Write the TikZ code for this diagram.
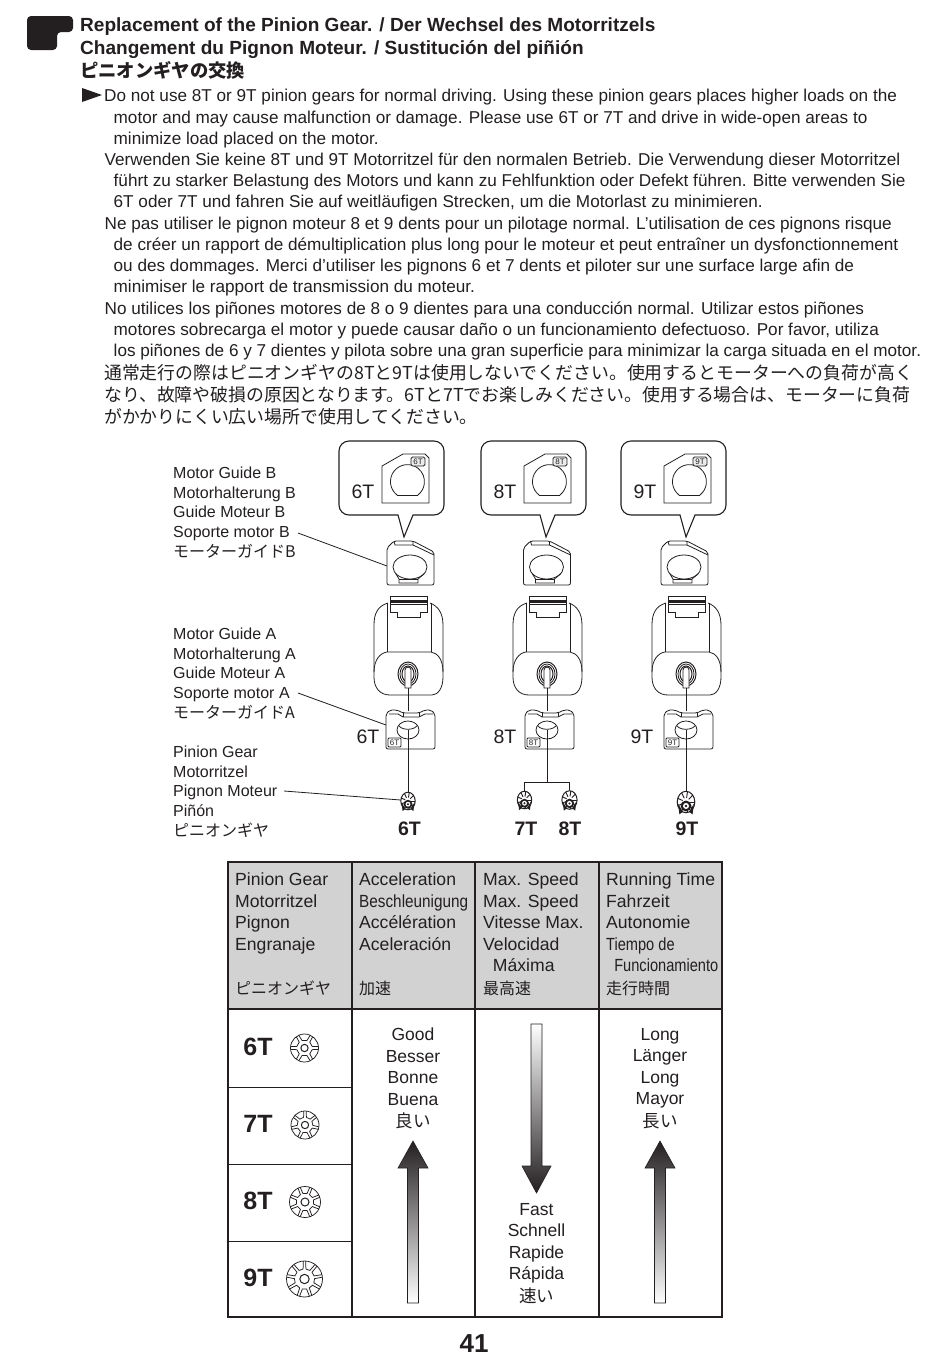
\documentclass[tikz,border=0pt]{standalone}
\usepackage{fontspec}
\setmainfont{Liberation Sans}
\newfontfamily\jp{Noto Sans CJK JP}
\newfontfamily\narrowf[FakeStretch=0.87]{Liberation Sans}
\newfontfamily\narrowg[FakeStretch=0.83]{Liberation Sans}
\definecolor{ink}{HTML}{231F20}
\definecolor{headgray}{HTML}{D2D2D2}
\newcommand\fsz[2]{\fontsize{#1}{#2}\selectfont}
\newcommand\tl[4]{\node[tline] (#1) at (#2,#3) {#4};}
\newcommand\wheel[4]{% x,y,R,N
 \begin{scope}[shift={(#1,#2)},line width=0.75pt,draw=ink]
  \draw (0,0) circle (#3);
  \draw[line width=1pt] (0,0) circle (0.26*#3);
  \foreach \i in {1,...,#4}{
    \pgfmathsetmacro\aa{\i*360/#4+90}
    \pgfmathsetmacro\ia{0.30*360/#4}
    \pgfmathsetmacro\oa{0.40*360/#4}
    \pgfmathsetmacro\sa{\aa-\ia}
    \pgfmathsetmacro\ea{\aa+\ia}
    \pgfmathsetmacro\so{\aa-\oa}
    \pgfmathsetmacro\eo{\aa+\oa}
    \pgfmathsetmacro\ra{0.56*#3}
    \draw (\so:#3) -- (\sa:\ra) arc[start angle=\sa,end angle=\ea,radius=\ra] -- (\eo:#3);
  }
 \end{scope}}
\tikzset{
 tline/.style={anchor=base west,inner sep=0pt,text=ink,font=\fsz{17.15}{20}},
 head/.style={anchor=base west,inner sep=0pt,text=ink,font=\fsz{19.05}{21}\bfseries},
 jline/.style={anchor=base west,inner sep=0pt,text=ink,font=\jp\fsz{17.86}{20}},
 lab/.style={anchor=north west,inner sep=0pt,align=left,text=ink,font=\fsz{16}{19.4}},
 thead/.style={anchor=north west,inner sep=0pt,align=left,text=ink,font=\fsz{17.6}{21.5}},
 tcent/.style={anchor=north,inner sep=0pt,align=center,text=ink,font=\fsz{17.5}{21.4}},
 gl/.style={inner sep=0pt,text=ink,font=\fsz{19.5}{20}},
 pl/.style={inner sep=0pt,text=ink,font=\fsz{19.5}{20}\bfseries},
 rowl/.style={inner sep=0pt,text=ink,font=\fsz{25}{28}\bfseries},
 pagenum/.style={inner sep=0pt,text=ink,font=\fsz{26}{28}\bfseries},
 tiny/.style={inner sep=0pt,text=ink,font=\fsz{8}{8}},
 thin line/.style={line width=0.8pt,draw=ink},
 tbl/.style={line width=1.8pt,draw=ink},
 arrowbody/.style={line width=0.6pt,draw=ink},
 pics/bubble/.style={code={
  \draw[thin line,line width=1.1pt,rounded corners=10pt] (-69,441) -- (36,441) -- (36,515) [sharp corners] -- (5,515) -- (-4,537) -- (-10,515) [rounded corners=10pt] -- (-69,515) -- cycle;
  \coordinate (-tip) at (-4,537);
  \draw[thin line] (-26,466) -- (-5,454) -- (17,454) -- (21,458) -- (21,503) -- (-26,503) -- cycle;
  \draw[thin line] (-11,495) -- (10,495);
  \draw[thin line] (-11,495) arc[start angle=128,end angle=412,radius=17];
  \draw[thin line,rounded corners=1.5pt,fill=black!8] (3,457) rectangle (17,466);
  \node[tiny] (-tag) at (10,461.5) {#1};
  \node[gl] (-txt) at (-45,492) {#1};
 }},
 pics/guideB/.style={code={
  \draw[thin line,rounded corners=2pt] (-21,548) -- (-14,541) -- (5,541) -- (26,552) -- (26,585) -- (-21,585) -- cycle;
  \draw[thin line] (-14,541) -- (-13,545) -- (5,545) -- (5,541);
  \draw[thin line] (5,545) -- (26,555);
  \draw[thin line] (2,567) ellipse (17 and 12);
  \draw[thin line] (-12,574) -- (-9,579) -- (-9,583) -- (10,583) -- (10,579) -- (16,574);
  \draw[thin line] (-9,579) -- (10,579);
  \coordinate (-w) at (-21,566);
 }},
 pics/motor/.style={code={
  \draw[thin line] (-20,603) .. controls (-30,606) and (-34,613) .. (-34,625) -- (-34,677) .. controls (-34,688) and (-28,695) .. (-18,695) -- (24,695) .. controls (30,695) and (35,688) .. (35,677) -- (35,625) .. controls (35,613) and (30,606) .. (22,603);
  \draw[thin line] (-21,603) -- (-21,652);
  \draw[thin line] (23,603) -- (23,652);
  \draw[thin line] (-34,672) .. controls (-34,660) and (-28,653) .. (-21,652) -- (23,652) .. controls (30,653) and (35,660) .. (35,672);
  \draw[thin line] (-18,596) rectangle (19,604);
  \fill[ink] (-18,600) rectangle (19,603);
  \draw[thin line] (-18,604) -- (-18,612) -- (-11,612) -- (-11,617) -- (12,617) -- (12,612) -- (19,612) -- (19,604);
  \draw[thin line,line width=1pt] (0,674) ellipse (10 and 12);
  \draw[thin line] (0,674) ellipse (8 and 10);
  \draw[thin line,line width=1pt] (0,674) ellipse (6 and 8);
  \draw[thin line,fill=white] (-3,670) -- (-3,688) -- (3,688) -- (3,670) arc[start angle=0,end angle=-180,radius=3];
  \coordinate (-end) at (0,688);
 }},
 pics/guideA/.style={code={
  \draw[thin line,rounded corners=2pt] (-22,714) -- (-18,710) -- (-11,710) -- (-5,713) -- (11,713) -- (17,710) -- (23,710) -- (27,714) -- (27,749) -- (-22,749) -- cycle;
  \draw[thin line] (-19,714) -- (-10,714) -- (-5,717) -- (11,717) -- (17,714) -- (25,714);
  \draw[thin line] (-5,713) -- (-5,717); \draw[thin line] (11,713) -- (11,717);
  \draw[thin line] (0,730) ellipse (11 and 9);
  \draw[thin line] (-9,726) arc[start angle=160,end angle=20,x radius=9.5,y radius=5];
  \draw[thin line,rounded corners=1pt,fill=white] (-20,738) rectangle (-7,747);
  \node[tiny] (-tag) at (-13.5,742.5) {#1};
  \coordinate (-w) at (-22,725);
  \coordinate (-top) at (0,711);
  \coordinate (-hole) at (0,730);
 }},
 pics/pinion/.style={code={
  \begin{scope}[yscale=1.22]
   \draw[ink,line width=1pt,fill=white] (0,0) circle (#1);
   \foreach \a in {0,40,...,320}{\draw[ink,line width=0.9pt] (\a:0.4*#1) -- (\a:#1);}
  \end{scope}
  \fill[ink] (-0.9*#1,0.2*#1) -- (-0.75*#1,1.4*#1) -- (-0.35*#1,1.1*#1) -- cycle;
  \fill[ink] (0.9*#1,0.2*#1) -- (0.75*#1,1.4*#1) -- (0.35*#1,1.1*#1) -- cycle;
  \fill[ink] (0,0.45*#1) circle (0.62*#1);
  \fill[white] (0,0.45*#1) circle (0.34*#1);
  \fill[ink] (0,0.45*#1) circle (0.15*#1);
  \coordinate (-top) at (0,-1.22*#1-0.5);
  \coordinate (-w) at (-#1,-1);
 }},
}
\newcommand\jt[1]{{\jp\fsz{16}{20}#1}}
\begin{document}
\begin{tikzpicture}[x=1pt,y=-1pt]
\useasboundingbox (0,0) rectangle (950,1355);
% heading mark
\fill[ink,rounded corners=4pt] (27,16) -- (73,16) -- (73,32) -- (57,32) -- (57,50) -- (27,50) -- cycle;
\node[head] (h1) at (80,31) {Replacement of the Pinion Gear. / Der Wechsel des Motorritzels};
\node[head] (h2) at (80,54) {Changement du Pignon Moteur. / Sustitución del piñión};
\node[jline,font=\jp\fsz{18.3}{20}\bfseries] (h3) at (80,77) {ピニオンギヤの交換};
\fill[ink] (82,88) -- (102,95) -- (82,102) -- cycle;
% body
\tl{a1}{104}{101}{Do not use 8T or 9T pinion gears for normal driving. Using these pinion gears places higher loads on the}
\tl{a2}{113.5}{123}{motor and may cause malfunction or damage. Please use 6T or 7T and drive in wide-open areas to}
\tl{a3}{113.5}{144}{minimize load placed on the motor.}
\tl{b1}{104.5}{165}{Verwenden Sie keine 8T und 9T Motorritzel für den normalen Betrieb. Die Verwendung dieser Motorritzel}
\tl{b2}{113.5}{186}{führt zu starker Belastung des Motors und kann zu Fehlfunktion oder Defekt führen. Bitte verwenden Sie}
\tl{b3}{113.5}{207}{6T oder 7T und fahren Sie auf weitläufigen Strecken, um die Motorlast zu minimieren.}
\tl{c1}{104.5}{229}{Ne pas utiliser le pignon moteur 8 et 9 dents pour un pilotage normal. L'utilisation de ces pignons risque}
\tl{c2}{113.5}{250}{de créer un rapport de démultiplication plus long pour le moteur et peut entraîner un dysfonctionnement}
\tl{c3}{113.5}{271}{ou des dommages. Merci d'utiliser les pignons 6 et 7 dents et piloter sur une surface large afin de}
\tl{c4}{113.5}{292}{minimiser le rapport de transmission du moteur.}
\tl{d1}{104.5}{314}{No utilices los piñones motores de 8 o 9 dientes para una conducción normal. Utilizar estos piñones}
\tl{d2}{113.5}{335}{motores sobrecarga el motor y puede causar daño o un funcionamiento defectuoso. Por favor, utiliza}
\tl{d3}{113.5}{356}{los piñones de 6 y 7 dientes y pilota sobre una gran superficie para minimizar la carga situada en el motor.}
\node[jline] (e1) at (104,379) {通常走行の際はピニオンギヤの8Tと9Tは使用しないでください。使用するとモーターへの負荷が高く};
\node[jline] (e2) at (104,401) {なり、故障や破損の原因となります。6Tと7Tでお楽しみください。使用する場合は、モーターに負荷};
\node[jline] (e3) at (104,423) {がかかりにくい広い場所で使用してください。};
% left labels
\node[lab] (lb) at (173,467) {Motor Guide B\\Motorhalterung B\\Guide Moteur B\\Soporte motor B\\[1pt]{\jp モーターガイドB}};
\node[lab] (la) at (173,628) {Motor Guide A\\Motorhalterung A\\Guide Moteur A\\Soporte motor A\\[1pt]{\jp モーターガイドA}};
\node[lab] (lp) at (173,746) {Pinion Gear\\Motorritzel\\Pignon Moteur\\Piñón\\[1pt]{\jp ピニオンギヤ}};
\coordinate (lbe) at (298,533);
\coordinate (lae) at (298,693);
\coordinate (lpe) at (284,791);
% column assemblies
\pic (s1) at (408,0) {bubble=6T};
\pic (s2) at (550,0) {bubble=8T};
\pic (s3) at (690,0) {bubble=9T};
\pic (gb1) at (408,0) {guideB};
\pic (gb2) at (544.5,0) {guideB};
\pic (gb3) at (682,0) {guideB};
\pic (m1) at (408,0) {motor};
\pic (m2) at (547,0) {motor};
\pic (m3) at (686,0) {motor};
\pic (ga1) at (408,0) {guideA=6T};
\pic (ga2) at (547,0) {guideA=8T};
\pic (ga3) at (686,0) {guideA=9T};
\node[gl] (t61) at (368,737) {6T};
\node[gl] (t81) at (505,737) {8T};
\node[gl] (t91) at (642,737) {9T};
\pic (p6) at (408,801) {pinion=7.2};
\pic (p7) at (524.5,800) {pinion=7.2};
\pic (p8) at (569.5,800) {pinion=7.6};
\pic (p9) at (686,802) {pinion=8.8};
\coordinate (br) at (547,782);
\draw[thin line] (m1-end) -- (ga1-top);
\draw[thin line] (m2-end) -- (ga2-top);
\draw[thin line] (m3-end) -- (ga3-top);
\draw[thin line] (ga1-hole) -- (p6-top);
\draw[thin line] (ga3-hole) -- (p9-top);
\draw[thin line] (ga2-hole) -- (br);
\draw[thin line] (br) -| (p7-top);
\draw[thin line] (br) -| (p8-top);
\draw[thin line] (lbe) -- (gb1-w);
\draw[thin line] (lae) -- (ga1-w);
\draw[thin line] (lpe) -- (p6-w);
\node[pl] (q6) at (409.5,829) {6T};
\node[pl] (q7) at (526,829) {7T};
\node[pl] (q8) at (570,829) {8T};
\node[pl] (q9) at (687,829) {9T};
% table
\fill[headgray] (228,862) rectangle (722,1009);
\draw[tbl] (228,862) rectangle (722,1317);
\draw[tbl] (228,1009) -- (722,1009);
\foreach \x in {352,475,599}{\draw[tbl] (\x,862) -- (\x,1317);}
\foreach \y in {1087,1164,1241}{\draw[line width=1pt,draw=ink] (228,\y) -- (352,\y);}
\node[thead] (h11) at (235,873) {Pinion Gear\\Motorritzel\\Pignon\\Engranaje\\\strut\\[1pt]\jt{ピニオンギヤ}};
\node[thead] (h12) at (359,873) {Acceleration\\{\narrowf Beschleunigung}\\Accélération\\Aceleración\\\strut\\[1pt]\jt{加速}};
\node[thead] (h13) at (483,873) {Max. Speed\\Max. Speed\\Vitesse Max.\\Velocidad\\\ \ Máxima\\[1pt]\jt{最高速}};
\node[thead] (h14) at (606,873) {Running Time\\Fahrzeit\\Autonomie\\{\narrowg Tiempo de}\\{\narrowg\ \ Funcionamiento}\\[1pt]\jt{走行時間}};
\node[rowl] (r6) at (258,1047) {6T};
\node[rowl] (r7) at (258,1124) {7T};
\node[rowl] (r8) at (258,1201) {8T};
\node[rowl] (r9) at (258,1278) {9T};
\wheel{304.5}{1048}{14}{6}
\wheel{305}{1125}{14}{7}
\wheel{305}{1202}{15.5}{8}
\wheel{304.5}{1279}{18}{9}
\node[tcent] (c2) at (413,1028) {Good\\Besser\\Bonne\\Buena\\[1.5pt]{\jp 良い}};
\node[tcent] (c3) at (536.5,1203) {Fast\\Schnell\\Rapide\\Rápida\\[1.5pt]{\jp 速い}};
\node[tcent] (c4) at (660,1028) {Long\\Länger\\Long\\Mayor\\[1.5pt]{\jp 長い}};
% gradient arrows
\path[arrowbody,top color=ink,bottom color=white] (413,1141) -- (428,1168) -- (418.5,1168) -- (418.5,1303) -- (407.5,1303) -- (407.5,1168) -- (398,1168) -- cycle;
\path[arrowbody,top color=ink,bottom color=white] (660,1141) -- (675,1168) -- (665.5,1168) -- (665.5,1303) -- (654.5,1303) -- (654.5,1168) -- (645,1168) -- cycle;
\path[arrowbody,top color=white,bottom color=ink] (536.5,1193) -- (522,1166) -- (531,1166) -- (531,1024) -- (542,1024) -- (542,1166) -- (551,1166) -- cycle;
\node[pagenum] (pg) at (474,1344) {41};
\end{tikzpicture}
\end{document}
